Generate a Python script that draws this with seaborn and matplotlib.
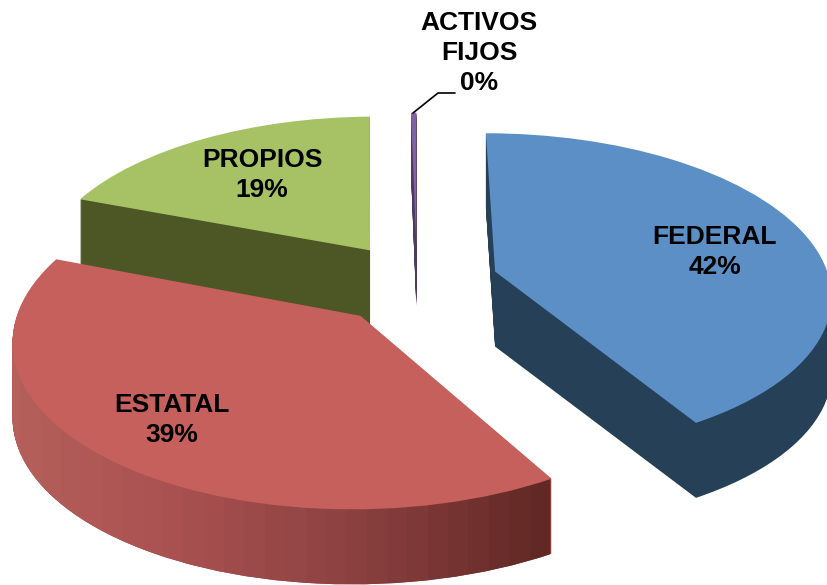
import numpy as np
import seaborn as sns
import matplotlib.pyplot as plt
from matplotlib.colors import LinearSegmentedColormap
from matplotlib.path import Path
from matplotlib.transforms import Transform

labels = ['FEDERAL', 'ESTATAL', 'PROPIOS', 'ACTIVOS\nFIJOS']
values = [41.6, 39.4, 19, 0.3]
shown = ['42%', '39%', '19%', '0%']
top_colors = ['#5b8fc5', '#c5605c', '#a6c265', '#8064a2']
side_colors = ['#264058', '#8a4040', '#4d5726', '#4d3b63']
order = [3, 4, 1, 2]  # far slices are drawn first
explode = [0.25, 0.255, 0.25, 0.22]
nudge = [(0, 2), (2, 4), (2, 2), (2, 0)]


class Tilt(Transform):
    # lays the pie plane down, far side smaller, result in image pixels
    input_dims = output_dims = 2

    def __init__(self, dx=0, dy=0):
        super().__init__()
        self.dx = dx
        self.dy = dy

    def transform_non_affine(self, xy):
        xy = np.asarray(xy)
        w = 1 + 0.131 * xy[:, 1]
        return np.column_stack((415 + self.dx + 335 * xy[:, 0] / w,
                                280 + self.dy - 159 * xy[:, 1] / w))


sns.set_theme(style='white')
plt.rcParams['font.family'] = ['Liberation Sans', 'DejaVu Sans']
fig, ax = plt.subplots(figsize=(8.27, 5.85), dpi=100)
fig.subplots_adjust(0, 0, 1, 1)

estatal_side = []
for drop in range(75, -1, -1):
    wedges = ax.pie(values, explode=explode, startangle=90, counterclock=False)[0]
    for i, w in enumerate(wedges):
        tilt = Tilt(nudge[i][0], nudge[i][1] + drop)
        w.set_transform(tilt + ax.transData)
        w.set_linewidth(0)
        w.set_facecolor(top_colors[i] if drop == 0 else side_colors[i])
        w.set_zorder(order[i] * 100 + (1 if drop == 0 else 0))
        if i == 3 and drop > 60:
            w.set_visible(False)
        if i == 1 and drop > 0:
            estatal_side.append(tilt.transform_path(w.get_path()))

shade = LinearSegmentedColormap.from_list('side', ['#b5605b', '#a85050', '#8a4040', '#622825'])
steps = np.linspace(0, 1, 27).reshape(1, -1)
im = ax.imshow(steps, cmap=shade, extent=(0, 550, 585, 250), aspect='auto', zorder=400.5)
im.set_clip_path(Path.make_compound_path(*estatal_side), ax.transData)

ax.set_aspect('auto')
ax.set_xlim(0, 827)
ax.set_ylim(585, 0)
ax.axis('off')

# leader line of the thin slice
ax.plot([413, 438, 455], [113, 93, 93], color='black', lw=1.2, zorder=900)

spots = [(715, 252), (172, 420), (262, 175), (479, 53)]
for name, pct, (x, y) in zip(labels, shown, spots):
    ax.text(x, y, name + '\n' + pct, ha='center', va='center', fontsize=19,
            fontweight='bold', color='black', linespacing=1.3, zorder=1000)

fig.savefig('out.png', dpi=100)
